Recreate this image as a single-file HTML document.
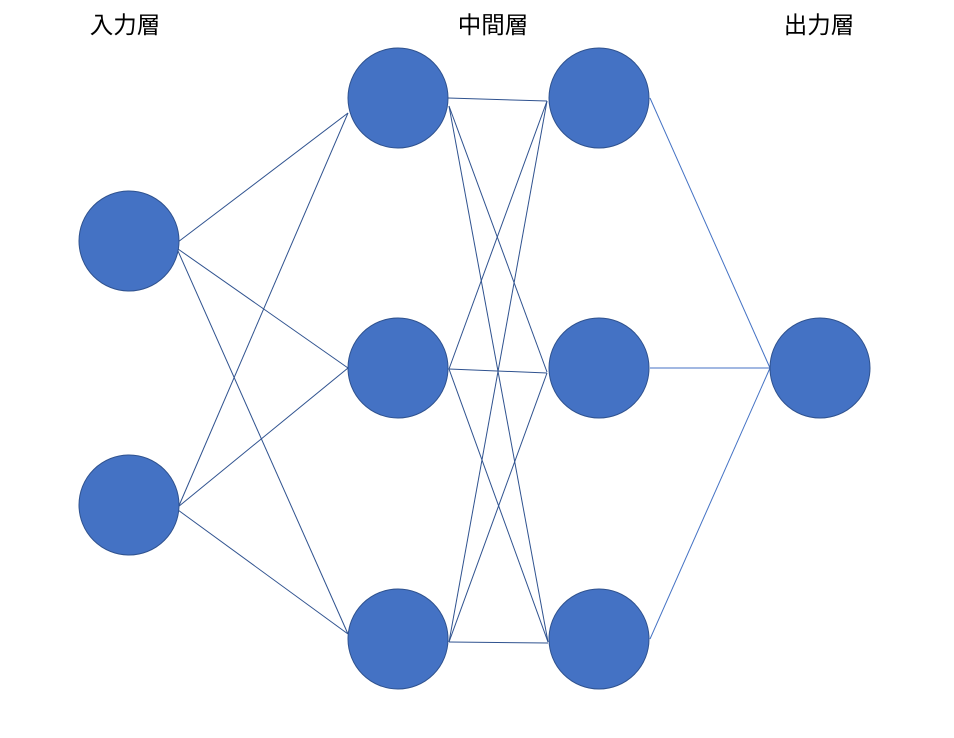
<!DOCTYPE html>
<html><head><meta charset="utf-8"><style>
html,body{margin:0;padding:0;background:#fff;width:954px;height:738px;overflow:hidden}
svg{display:block}
text{font-family:"Liberation Sans","Noto Sans CJK JP",sans-serif;font-size:23.5px;font-weight:normal;fill:#000}
</style></head><body>
<svg width="954" height="738" viewBox="0 0 954 738">
<g stroke="#2f528f" stroke-width="1" fill="none">
<line x1="178" y1="242" x2="348" y2="113"/>
<line x1="178" y1="249" x2="348" y2="368"/>
<line x1="178" y1="251" x2="348" y2="634"/>
<line x1="178" y1="508" x2="348" y2="113"/>
<line x1="178" y1="507" x2="348" y2="368"/>
<line x1="178" y1="510" x2="348" y2="634"/>
<line x1="448" y1="98" x2="547" y2="101"/>
<line x1="449" y1="106" x2="547" y2="372"/>
<line x1="449" y1="106" x2="548" y2="642"/>
<line x1="449" y1="369" x2="547" y2="101"/>
<line x1="449" y1="369" x2="547" y2="373"/>
<line x1="449" y1="369" x2="548" y2="642"/>
<line x1="449" y1="642" x2="547" y2="101"/>
<line x1="449" y1="642" x2="547" y2="373"/>
<line x1="449" y1="642" x2="548" y2="643"/>
</g>
<g stroke="#4472c4" stroke-width="1" fill="none">
<line x1="650" y1="98" x2="770" y2="368"/>
<line x1="650" y1="368" x2="770" y2="368"/>
<line x1="650" y1="639" x2="770" y2="368"/>
</g>
<g fill="#4472c4" stroke="#2f528f" stroke-width="1">
<circle cx="129" cy="241" r="50"/>
<circle cx="129" cy="505" r="50"/>
<circle cx="398" cy="98" r="50"/>
<circle cx="398" cy="368" r="50"/>
<circle cx="398" cy="639" r="50"/>
<circle cx="599" cy="98" r="50"/>
<circle cx="599" cy="368" r="50"/>
<circle cx="599" cy="639" r="50"/>
<circle cx="820" cy="368" r="50"/>
</g>
<text x="125" y="33" text-anchor="middle">入力層</text>
<text x="493" y="33" text-anchor="middle">中間層</text>
<text x="819" y="33" text-anchor="middle">出力層</text>
</svg>
</body></html>
